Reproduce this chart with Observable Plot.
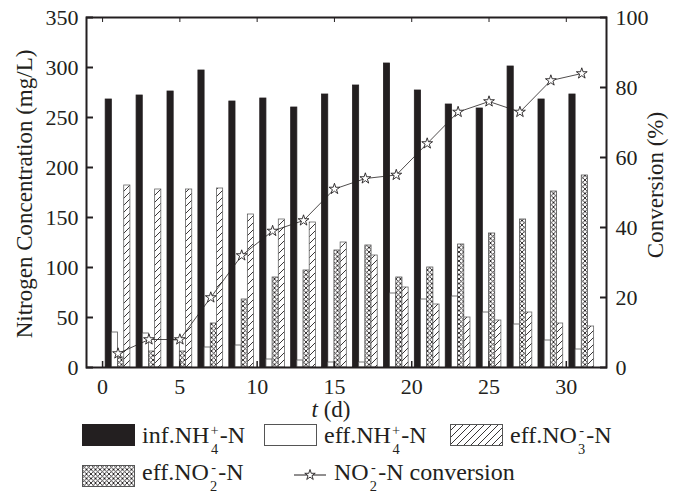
<!DOCTYPE html>
<html><head><meta charset="utf-8">
<script src="https://cdn.jsdelivr.net/npm/d3@7"></script>
<script src="https://cdn.jsdelivr.net/npm/@observablehq/plot@0.6"></script>
<style>
body{margin:0;background:#fff;font-family:"Liberation Serif","Times New Roman",serif;color:#231f20}
#wrap{position:relative;width:677px;height:494px;overflow:hidden}
.lg{position:absolute;font-size:24px;line-height:24px;white-space:nowrap}
.sw{position:absolute}
.ss{display:inline-flex;flex-direction:column;align-items:center;font-size:0.6em;line-height:1;row-gap:0.3em;vertical-align:0.55em;margin:0 0.08em}
</style></head><body>
<svg width="0" height="0" style="position:absolute"><defs>
<pattern id="diag" patternUnits="userSpaceOnUse" width="7" height="7">
<rect width="7" height="7" fill="#fff"/>
<path d="M-1,1 L1,-1 M0,7 L7,0 M6,8 L8,6" stroke="#231f20" stroke-width="0.9"/>
</pattern>
<pattern id="cross" patternUnits="userSpaceOnUse" width="4.5" height="4.5">
<rect width="4.5" height="4.5" fill="#fff"/>
<path d="M0,0 L4.5,4.5 M4.5,0 L0,4.5" stroke="#231f20" stroke-width="0.9"/>
</pattern>
</defs></svg>
<div id="wrap">
<div id="chart"></div>
<div id="legend"></div>
</div>
<script>
// ---- data ----
const days    = [1,3,5,7,9,11,13,15,17,19,21,23,25,27,29,31];
const infNH4  = [268,272,276,297,266,269,260,273,282,304,277,263,259,301,268,273];
const effNH4  = [35,34,27,20,22,8,7,5,5,74,68,71,55,43,27,18];
const effNO3  = [182,178,178,179,153,148,145,125,112,80,63,50,47,55,44,41];
const effNO2  = [10,16,16,44,68,90,97,117,122,90,100,123,134,148,176,192];
const conversion = [4,8,8,20,32,39,42,51,54,55,64,73,76,73,82,84];
const xTicks = [0,5,10,15,20,25,30];
const yTicks = [0,50,100,150,200,250,300,350];
const convTicks = [0,20,40,60,80,100];

const series = [
  {key:"inf", values:infNH4, off:-0.8, fill:"#231f20", stroke:"#231f20"},
  {key:"effNH4", values:effNH4, off:-0.4, fill:"#fff", stroke:"#555"},
  {key:"effNO2", values:effNO2, off:0.0, fill:"url(#cross)", stroke:"#555"},
  {key:"effNO3", values:effNO3, off:0.4, fill:"url(#diag)", stroke:"#666"}
];
const bw = 0.4;
const k = 350/100; // conversion % -> left-axis units
const conv = days.map((d,i)=>({day:d, c:conversion[i]*k}));

const marks = [];
for (const s of series) {
  const rows = days.map((d,i)=>({day:d, v:s.values[i]}));
  marks.push(Plot.rect(rows, {x1:d=>d.day+s.off, x2:d=>d.day+s.off+bw, y1:0, y2:"v", fill:s.fill, stroke:s.stroke, strokeWidth:0.8}));
}
marks.push(Plot.line(conv, {x:"day", y:"c", stroke:"#231f20", strokeWidth:0.8}));
marks.push(Plot.dot(conv, {x:"day", y:"c", symbol:"star", r:3.4, fill:"#fff", stroke:"#231f20", strokeWidth:0.9}));
marks.push(Plot.frame({stroke:"#231f20", strokeWidth:2}));
marks.push(Plot.axisX({anchor:"bottom", ticks:xTicks, tickSize:-6, tickPadding:17, fontSize:22, label:null, strokeWidth:1.5}));
marks.push(Plot.axisX({anchor:"top", ticks:xTicks, tickSize:-4, tickFormat:()=>"", label:null, strokeWidth:1}));
marks.push(Plot.axisY({anchor:"left", ticks:yTicks, tickSize:-7, tickPadding:15, fontSize:22, label:null, strokeWidth:2}));
marks.push(Plot.axisY({anchor:"right", ticks:convTicks.map(c=>c*k), tickFormat:d=>Math.round(d/k), tickSize:-7, tickPadding:16, fontSize:22, label:null, strokeWidth:2}));

const svg = Plot.plot({
  width:677, height:424,
  marginLeft:86, marginRight:71, marginTop:17, marginBottom:57,
  x:{domain:[-1.04,32.6]},
  y:{domain:[0,350]},
  style:{fontFamily:"Liberation Serif, Times New Roman, serif", color:"#231f20", background:"#fff"},
  marks
});
document.getElementById("chart").appendChild(svg);
const s = d3.select(svg);
s.append("text").attr("x",331).attr("y",417).attr("text-anchor","middle").attr("font-size",23).attr("fill","#231f20")
  .call(t=>{t.append("tspan").attr("font-style","italic").text("t"); t.append("tspan").text(" (d)");});
s.append("text").attr("transform","translate(24,194) rotate(-90)").attr("text-anchor","middle").attr("dominant-baseline","central")
  .attr("font-size",23).attr("fill","#231f20").text("Nitrogen Concentration (mg/L)");
s.append("text").attr("transform","translate(655,185) rotate(-90)").attr("text-anchor","middle").attr("dominant-baseline","central")
  .attr("font-size",23).attr("fill","#231f20").text("Conversion (%)");

// ---- legend ----
const ss = (u,d)=>`<span class="ss"><span>${u}</span><span>${d}</span></span>`;
const starPath = d3.symbol(d3.symbolStar, 34)();
const legend = [
  {x:82, y:424, ty:423, sw:`<rect x="0.5" y="0.5" width="52" height="21" fill="#231f20" stroke="#231f20"/>`, tx:142, html:`inf.NH${ss("+","4")}-N`},
  {x:264, y:424, ty:423, sw:`<rect x="0.5" y="0.5" width="52" height="21" fill="#fff" stroke="#555"/>`, tx:324, html:`eff.NH${ss("+","4")}-N`},
  {x:450, y:424, ty:423, sw:`<rect x="0.5" y="0.5" width="52" height="21" fill="url(#diag)" stroke="#555"/>`, tx:510, html:`eff.NO${ss("-","3")}-N`},
  {x:82, y:465, ty:460, sw:`<rect x="0.5" y="0.5" width="52" height="21" fill="url(#cross)" stroke="#555"/>`, tx:142, html:`eff.NO${ss("-","2")}-N`},
  {x:294, y:464, ty:460, sw:`<line x1="0" x2="32" y1="11" y2="11" stroke="#231f20" stroke-width="1"/><path d="${starPath}" transform="translate(16,11)" fill="#fff" stroke="#231f20" stroke-width="0.9"/>`, tx:334, html:`NO${ss("-","2")}-N conversion`}
];
const lg = document.getElementById("legend");
for (const it of legend) {
  lg.insertAdjacentHTML("beforeend",
    `<svg class="sw" style="left:${it.x}px;top:${it.y}px" width="54" height="23">${it.sw}</svg>` +
    `<div class="lg" style="left:${it.tx}px;top:${it.ty}px">${it.html}</div>`);
}
</script>
</body></html>
